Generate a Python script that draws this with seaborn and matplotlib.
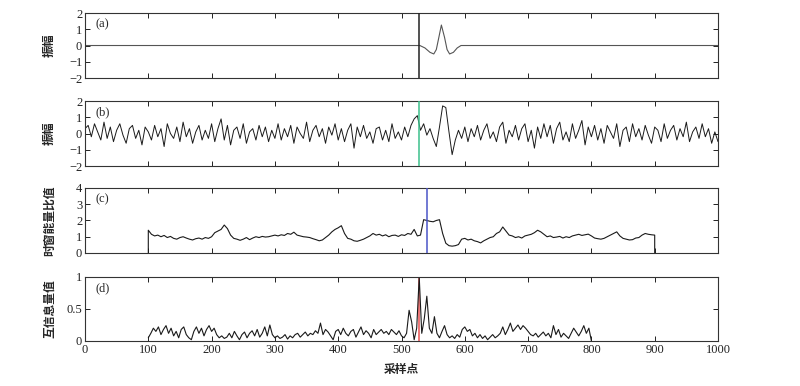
import numpy as np
import matplotlib
matplotlib.use("Agg")
import matplotlib.pyplot as plt
import seaborn as sns

# (a) synthetic wavelet: sample positions and amplitudes
a_x = [0, 529, 537, 545, 551, 555, 559, 563, 568, 572, 576, 582, 588, 594, 1000]
a_y = [0, 0, -0.15, -0.42, -0.52, -0.25, 0.5, 1.26, 0.5, -0.25, -0.52, -0.42, -0.15, 0, 0]

# (b) noisy record, every 5th sample from 0 to 1000
b_step = 5
b_y = [
    0.3, 0.5, -0.2, 0.6, 0.1, -0.4, 0.7, -0.3, 0.4, -0.5, 0.2, 0.6, -0.1, -0.6, 0.3, 0.5, -0.3, 0.2, -0.7, 0.4, 0.1,
    -0.4, 0.5, -0.2, 0.3, -0.8, 0.6, 0.0, -0.3, 0.4, -0.5, 0.7, -0.2, 0.3, -0.6, 0.1, 0.5, -0.4, 0.2, -0.3, 0.6,
    -0.5, 0.3, 0.9, -0.4, 0.5, -0.7, 0.2, 0.4, -0.3, 0.6, -0.6, 0.1, 0.3, -0.4, 0.5, -0.2, 0.4, -0.5, 0.2, -0.3,
    0.6, -0.4, 0.3, -0.2, 0.5, -0.6, 0.4, 0.0, -0.3, 0.7, -0.5, 0.2, 0.5, -0.2, 0.3, -0.6, 0.4, -0.1, 0.6, -0.4,
    0.3, -0.5, 0.2, 0.6, -0.9, 0.4, -0.2, 0.5, -0.3, 0.1, -0.6, 0.3, 0.4, -0.4, 0.2, -0.5, 0.6, -0.3, 0.1, -0.4,
    0.4, -0.2, 0.5, 0.9, 1.1, 0.2, 0.6, -0.1, 0.3, -0.3, -0.8, 0.4, 1.7, 1.6, 0.1, -1.3, -0.4, 0.2, -0.3, 0.4,
    -0.5, 0.3, -0.2, 0.5, -0.4, 0.2, 0.6, -0.3, 0.1, -0.5, 0.4, 0.7, -0.6, 0.2, -0.2, 0.5, -0.4, 0.3, 0.6, -0.5,
    0.2, -0.9, 0.4, -0.3, 0.6, -0.2, 0.5, -0.6, 0.3, 0.7, -0.4, 0.1, -0.5, 0.6, -0.3, 0.2, 0.8, -0.7, 0.4, -0.2,
    0.5, -0.4, 0.3, -0.6, 0.5, 0.1, -0.3, 0.6, -0.8, 0.2, 0.4, -0.5, 0.6, -0.2, 0.3, -0.4, 0.5, -0.1, -0.6, 0.4,
    0.2, -0.5, 0.6, -0.3, 0.2, 0.5, -0.4, 0.3, -0.2, 0.7, -0.5, 0.1, 0.4, -0.3, 0.6, -0.2, 0.3, -0.6, 0.1, -0.5,
]

# (c) window energy ratio, every 5th sample from 100 to 900
c_start, c_step = 100, 5
c_y = [
    1.40, 1.15, 1.05, 1.10, 1.00, 1.08, 0.95, 1.02, 0.90, 0.85, 0.95, 1.00, 0.92, 0.85, 0.80, 0.88, 0.92, 0.85, 0.95, 0.90,
    1.00, 1.25, 1.35, 1.45, 1.72, 1.50, 1.10, 0.90, 0.85, 0.78, 0.85, 0.95, 0.82, 0.92, 1.00, 0.95, 1.02, 0.98, 1.00, 1.05,
    1.10, 1.05, 1.12, 1.08, 1.20, 1.15, 1.28, 1.10, 1.05, 1.00, 0.98, 0.95, 0.88, 0.82, 0.75, 0.80, 0.95, 1.10, 1.30, 1.45,
    1.55, 1.68, 1.20, 0.90, 0.85, 0.75, 0.72, 0.78, 0.85, 0.95, 1.05, 1.20, 1.10, 1.15, 1.05, 1.12, 1.00, 1.08, 1.10, 1.02,
    1.12, 1.08, 1.20, 1.15, 1.45, 1.05, 1.10, 2.05, 2.00, 1.95, 1.92, 2.00, 2.05, 1.20, 0.60, 0.45, 0.42, 0.45, 0.52, 0.85,
    0.90, 0.80, 0.85, 0.75, 0.70, 0.62, 0.75, 0.85, 0.95, 1.00, 1.20, 1.30, 1.60, 1.35, 1.10, 1.05, 0.95, 1.00, 0.92, 1.05,
    1.10, 1.15, 1.25, 1.40, 1.30, 1.15, 1.00, 1.05, 0.95, 0.98, 1.02, 0.92, 1.00, 0.95, 1.05, 1.10, 1.15, 1.08, 1.12, 1.16,
    1.05, 0.92, 0.88, 0.85, 0.90, 1.00, 1.10, 1.20, 1.30, 1.05, 0.90, 0.85, 0.80, 0.82, 0.92, 0.95, 1.10, 1.20, 1.15, 1.12,
    1.10,
]

# (d) mutual information, every 4th sample from 100 to 800
d_start, d_step = 100, 4
d_y = [
    0.05, 0.12, 0.20, 0.15, 0.22, 0.10, 0.18, 0.24, 0.12, 0.20, 0.08, 0.15, 0.05, 0.18, 0.22, 0.10, 0.05, 0.02, 0.15, 0.22, 0.12, 0.20, 0.08, 0.18, 0.24,
    0.15, 0.20, 0.10, 0.05, 0.08, 0.04, 0.06, 0.12, 0.05, 0.15, 0.08, 0.02, 0.10, 0.14, 0.05, 0.12, 0.16, 0.08, 0.18, 0.06, 0.12, 0.22, 0.08, 0.25, 0.10,
    0.05, 0.08, 0.04, 0.06, 0.10, 0.03, 0.08, 0.05, 0.10, 0.12, 0.06, 0.10, 0.14, 0.08, 0.12, 0.10, 0.16, 0.12, 0.28, 0.10, 0.18, 0.14, 0.08, 0.02, 0.15,
    0.18, 0.10, 0.20, 0.12, 0.08, 0.15, 0.18, 0.06, 0.14, 0.22, 0.10, 0.16, 0.12, 0.05, 0.18, 0.10, 0.14, 0.18, 0.12, 0.15, 0.10, 0.18, 0.14, 0.10, 0.16,
    0.08, 0.05, 0.12, 0.48, 0.30, 0.02, 0.20, 1.00, 0.12, 0.35, 0.70, 0.20, 0.12, 0.38, 0.12, 0.05, 0.15, 0.24, 0.10, 0.05, 0.08, 0.04, 0.10, 0.06, 0.18,
    0.22, 0.15, 0.18, 0.08, 0.12, 0.05, 0.10, 0.04, 0.08, 0.02, 0.06, 0.10, 0.05, 0.08, 0.12, 0.22, 0.10, 0.18, 0.28, 0.15, 0.20, 0.25, 0.18, 0.24, 0.20,
    0.15, 0.10, 0.08, 0.12, 0.06, 0.10, 0.14, 0.08, 0.12, 0.05, 0.24, 0.10, 0.18, 0.06, 0.12, 0.08, 0.04, 0.12, 0.20, 0.14, 0.08, 0.15, 0.24, 0.12, 0.20,
    0.0,
]

# picked arrival sample in each panel
picks = [527, 527, 541, 527]
pick_colors = ["#222222", "#3cc08c", "#4a55c8", "#e8504f"]

panel_tags = ["(a)", "(b)", "(c)", "(d)"]
ylabels = ["振幅", "振幅", "时窗能量比值", "互信息量值"]
ylims = [(-2, 2), (-2, 2), (0, 4), (0, 1)]
yticks = [[-2, -1, 0, 1, 2], [-2, -1, 0, 1, 2], [0, 1, 2, 3, 4], [0, 0.5, 1]]
yticklabels = [["−2", "−1", "0", "1", "2"], ["−2", "−1", "0", "1", "2"],
               ["0", "1", "2", "3", "4"], ["0", "0.5", "1"]]
xticks = list(range(0, 1001, 100))

sns.set_style("ticks")
plt.rcParams["font.family"] = ["Liberation Serif", "Noto Sans CJK SC"]
plt.rcParams["axes.edgecolor"] = "#333333"
plt.rcParams["axes.linewidth"] = 0.8

fig = plt.figure(figsize=(8, 3.86), dpi=100)
# axes rectangles in figure fractions (left, bottom, width, height)
rects = [
    [0.10625, 0.7979, 0.79125, 0.1684],
    [0.10625, 0.5699, 0.79125, 0.1684],
    [0.10625, 0.3446, 0.79125, 0.1684],
    [0.10625, 0.1166, 0.79125, 0.1658],
]
axes = [fig.add_axes(r) for r in rects]

series = [
    (np.array(a_x, float), np.array(a_y, float)),
    (np.arange(len(b_y)) * b_step, np.array(b_y, float)),
    (np.r_[c_start, c_start + np.arange(len(c_y)) * c_step, c_start + (len(c_y) - 1) * c_step],
     np.r_[0.0, c_y, 0.0]),
    (d_start + np.arange(len(d_y)) * d_step, np.array(d_y, float)),
]

for i, ax in enumerate(axes):
    x, y = series[i]
    lw = 0.8 if i != 1 else 0.7
    color = "#555555" if i == 0 else "#1a1a1a"
    sns.lineplot(x=x, y=y, ax=ax, color=color, lw=lw, estimator=None, sort=False)
    if i == 3:
        ax.axvline(picks[i], color=pick_colors[i], lw=1.1, zorder=1)
    else:
        ax.axvline(picks[i], color=pick_colors[i], lw=1.1, zorder=3)

    ax.set_xlim(0, 1000)
    ax.set_ylim(*ylims[i])
    ax.set_xticks(xticks)
    ax.set_yticks(yticks[i])
    ax.set_yticklabels(yticklabels[i])
    ax.tick_params(direction="in", length=3.5, width=0.7, top=True, right=True,
                   labelsize=9, pad=2, colors="#222222")
    ax.tick_params(axis="x", labelbottom=(i == 3))
    ax.set_xlabel("")
    ax.set_ylabel(ylabels[i], family=["Noto Sans CJK SC"], fontweight="bold", fontsize=8.5)
    ax.yaxis.set_label_coords(-0.046, 0.5)
    ax.text(0.017, 0.83, panel_tags[i], transform=ax.transAxes, ha="left", va="center", fontsize=9)
    for sp in ax.spines.values():
        sp.set_visible(True)

axes[3].set_xlabel("采样点", family=["Noto Sans CJK SC"], fontweight="bold", fontsize=8.5, labelpad=5)

fig.savefig("out.png", dpi=100)
